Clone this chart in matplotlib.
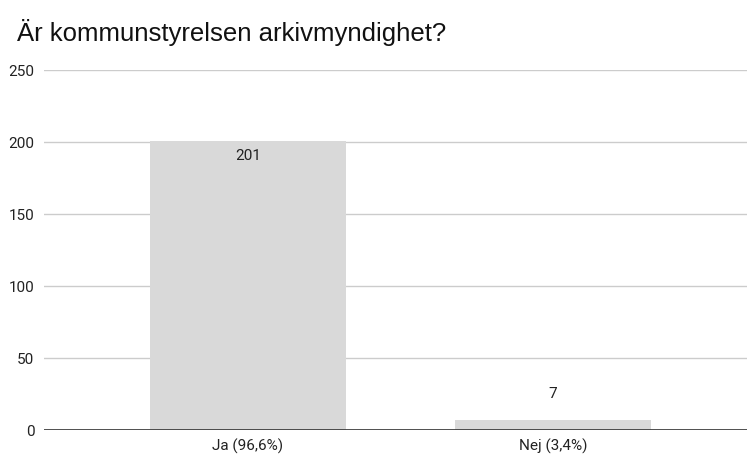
import matplotlib.pyplot as plt

categories = ["Ja (96,6%)", "Nej (3,4%)"]
counts = [201, 7]
yticks = [0, 50, 100, 150, 200, 250]

plt.rcParams['font.family'] = ['Roboto', 'DejaVu Sans']

fig = plt.figure(figsize=(7.47, 4.54), dpi=100)
W, H = 747, 454
# axes in pixel coords: left 44, right 747, top 70, bottom 430
ax = fig.add_axes([44 / W, 1 - 430 / H, (747 - 44) / W, (430 - 70) / H])

x = list(range(len(categories)))
ax.bar(x, counts, width=0.64, color='#d9d9d9', zorder=2)
ax.set_xlim((44 - 248) / 305, (747 - 248) / 305)
ax.set_ylim(0, 250)
ax.set_yticks(yticks)
ax.grid(axis='y', color='#cccccc', linewidth=1, zorder=0)
ax.axhline(0, color='#333333', linewidth=1.2, zorder=3)

for s in ax.spines.values():
    s.set_visible(False)
ax.tick_params(axis='both', length=0, labelsize=11, colors='#222222')
ax.tick_params(axis='y', pad=7)
ax.tick_params(axis='x', pad=6)
ax.set_xticks(x)
ax.set_xticklabels(categories)

for xi, v in zip(x, counts):
    if v > 30:
        ax.text(xi, v - 6, str(v), ha='center', va='top', fontsize=11, color='#222222', zorder=4)
    else:
        ax.text(xi, v + 13, str(v), ha='center', va='bottom', fontsize=11, color='#222222', zorder=4)

fig.text(17 / W, 1 - 32 / H, "Är kommunstyrelsen arkivmyndighet?", ha='left', va='center',
         fontsize=18.5, color='#111111', family=['Liberation Sans', 'DejaVu Sans'])

fig.savefig('out.png', dpi=100)
